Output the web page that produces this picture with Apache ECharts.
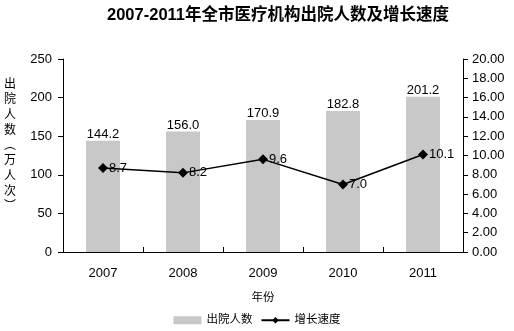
<!DOCTYPE html>
<html><head><meta charset="utf-8">
<script src="https://cdn.jsdelivr.net/npm/echarts@6/dist/echarts.min.js"></script>
<style>html,body{margin:0;padding:0;background:#fff}#c{width:514px;height:331px}</style>
</head><body><div id="c"></div>
<script>
const categories = ['2007','2008','2009','2010','2011'];
const discharges = [144.2, 156.0, 170.9, 182.8, 201.2];
const growth = [8.7, 8.2, 9.6, 7.0, 10.1];
const leftTicks = [0, 250, 50];
const rightTicks = [0, 20, 2];

const chart = echarts.init(document.getElementById('c'));
const font = 'Arial, "Liberation Sans", "Noto Sans CJK SC", sans-serif';
chart.setOption({
  animation: false,
  textStyle: {fontFamily: font},
  title: {text: '2007-2011年全市医疗机构出院人数及增长速度', left: 102, top: 2,
    textStyle: {fontSize: 16.5, fontWeight: 'bold', color: '#000', fontFamily: font}},
  graphic: [{type: 'text', left: 4, top: 77,
    style: {text: '出\n院\n人\n数\n︵\n万\n人\n次\n︶', fontSize: 12, lineHeight: 15.3, fill: '#000', fontFamily: font}}],
  legend: {bottom: 0, left: 'center', itemGap: 8, itemWidth: 28, itemHeight: 8,
    textStyle: {fontSize: 11.5, color: '#000'},
    data: [{name: '出院人数', icon: 'rect'}, {name: '增长速度'}]},
  grid: {left: 63, right: 51, top: 59, bottom: 79},
  xAxis: {type: 'category', data: categories, name: '年份', nameLocation: 'middle', nameGap: 40,
    nameTextStyle: {fontSize: 11.5, color: '#000'},
    axisLine: {lineStyle: {color: '#000'}},
    axisTick: {show: true, inside: true, length: 5, lineStyle: {color: '#000'}},
    axisLabel: {color: '#000', fontSize: 13, margin: 15}},
  yAxis: [
    {type: 'value', min: leftTicks[0], max: leftTicks[1], interval: leftTicks[2],
      axisLine: {show: true, lineStyle: {color: '#000'}},
      axisTick: {show: true, length: 5, lineStyle: {color: '#000'}},
      axisLabel: {color: '#000', fontSize: 13, margin: 11},
      splitLine: {show: false}},
    {type: 'value', min: rightTicks[0], max: rightTicks[1], interval: rightTicks[2],
      axisLine: {show: true, lineStyle: {color: '#000'}},
      axisTick: {show: true, length: 5, lineStyle: {color: '#000'}},
      axisLabel: {color: '#000', fontSize: 13, margin: 9, formatter: v => v.toFixed(2)},
      splitLine: {show: false}}
  ],
  series: [
    {name: '出院人数', type: 'bar', data: discharges, barWidth: 34,
      itemStyle: {color: '#c8c8c8'},
      label: {show: true, position: 'top', distance: 0, color: '#000', fontSize: 13,
        formatter: p => p.value.toFixed(1)}},
    {name: '增长速度', type: 'line', yAxisIndex: 1, data: growth,
      symbol: 'diamond', symbolSize: 10,
      lineStyle: {color: '#000', width: 1.5}, itemStyle: {color: '#000'},
      label: {show: true, position: 'right', distance: 1, color: '#000', fontSize: 13,
        formatter: p => p.value.toFixed(1)}}
  ]
});
</script></body></html>
